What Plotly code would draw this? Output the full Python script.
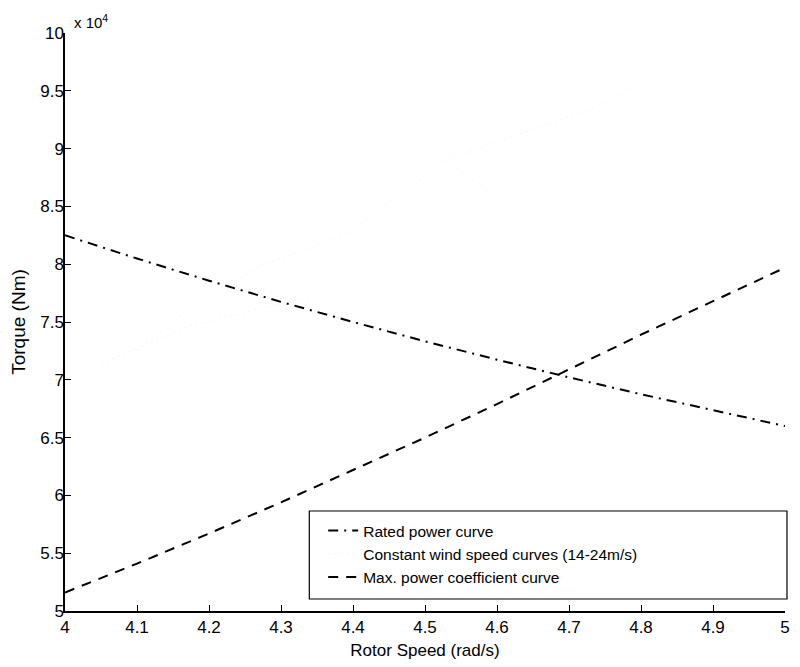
import plotly.graph_objects as go

# ---- data ----
rotor_speed = [4.0, 4.1, 4.2, 4.3, 4.4, 4.5, 4.6, 4.7, 4.8, 4.9, 5.0]
rated_power_torque = [82500, 80490, 78570, 76740, 75000, 73330, 71740, 70210, 68750, 67350, 66000]
max_cp_torque = [51600, 54100, 56700, 59400, 62200, 65000, 67900, 70900, 73900, 76800, 79700]

# faint constant wind speed curves (barely visible in the reference)
wind_curve_speeds = [
    [4.05, 4.17, 4.34],
    [4.10, 4.17, 4.27, 4.39],
    [4.39, 4.53, 4.59],
    [4.53, 4.73, 4.79],
]
wind_curve_torques = [
    [71400, 74600, 77200],
    [72500, 76000, 79800, 82600],
    [82600, 89000, 86200],
    [89000, 93400, 95300],
]

x_tickvals = [4.0, 4.1, 4.2, 4.3, 4.4, 4.5, 4.6, 4.7, 4.8, 4.9, 5.0]
x_ticktext = ["4", "4.1", "4.2", "4.3", "4.4", "4.5", "4.6", "4.7", "4.8", "4.9", "5"]
y_tickvals = [50000, 55000, 60000, 65000, 70000, 75000, 80000, 85000, 90000, 95000, 100000]
y_ticktext = ["5", "5.5", "6", "6.5", "7", "7.5", "8", "8.5", "9", "9.5", "10"]

FONT = "Liberation Sans, Arial, Helvetica, sans-serif"

fig = go.Figure()

fig.add_trace(go.Scatter(
    x=rotor_speed, y=rated_power_torque, mode="lines",
    name="Rated power curve",
    line=dict(color="black", width=2, dash="10px,6px,2px,6px"),
))

for i, (xs, ys) in enumerate(zip(wind_curve_speeds, wind_curve_torques)):
    fig.add_trace(go.Scatter(
        x=xs, y=ys, mode="lines",
        name="Constant wind speed curves (14-24m/s)",
        legendgroup="wind", showlegend=(i == 0),
        line=dict(color="rgba(0,0,0,0.035)", width=1, dash="dot"),
    ))

fig.add_trace(go.Scatter(
    x=rotor_speed, y=max_cp_torque, mode="lines",
    name="Max. power coefficient curve",
    line=dict(color="black", width=2, dash="10px,8px"),
))

axis_common = dict(
    showline=True, linecolor="black", linewidth=1.5, mirror=False,
    ticks="inside", ticklen=6, tickcolor="black", tickwidth=1.2,
    showgrid=False, zeroline=False,
    tickfont=dict(family=FONT, size=17, color="black"),
)

fig.update_xaxes(
    range=[4, 5], tickmode="array", tickvals=x_tickvals, ticktext=x_ticktext,
    title=dict(text="Rotor Speed (rad/s)", font=dict(family=FONT, size=17, color="black"), standoff=8),
    **axis_common,
)
fig.update_yaxes(
    range=[50000, 100000], tickmode="array", tickvals=y_tickvals, ticktext=y_ticktext,
    ticklabelstandoff=-4,
    title=dict(text="Torque (Nm)", font=dict(family=FONT, size=19, color="black"), standoff=10),
    **axis_common,
)

# legend frame
fig.add_shape(type="rect", xref="paper", yref="paper",
              x0=(311 - 65) / 725, x1=(792 - 65) / 725,
              y0=(611 - 599) / 578, y1=(611 - 511) / 578,
              line=dict(color="black", width=1.2), fillcolor="white", layer="below")

fig.add_annotation(xref="paper", yref="paper", x=0.01, y=1.0, xanchor="left", yanchor="bottom",
                   text="x 10<sup>4</sup>", showarrow=False,
                   font=dict(family=FONT, size=15, color="black"))

fig.update_layout(
    width=800, height=667,
    margin=dict(l=65, r=10, t=33, b=56),
    paper_bgcolor="white", plot_bgcolor="rgba(0,0,0,0)",
    showlegend=True,
    legend=dict(
        x=(325 - 65) / 725, y=(611 - 514) / 578, xanchor="left", yanchor="top",
        bgcolor="rgba(0,0,0,0)", borderwidth=0,
        font=dict(family=FONT, size=15.5, color="black"),
        traceorder="normal", itemwidth=30,
    ),
    font=dict(family=FONT, color="black"),
)

fig.write_html("out.html")
